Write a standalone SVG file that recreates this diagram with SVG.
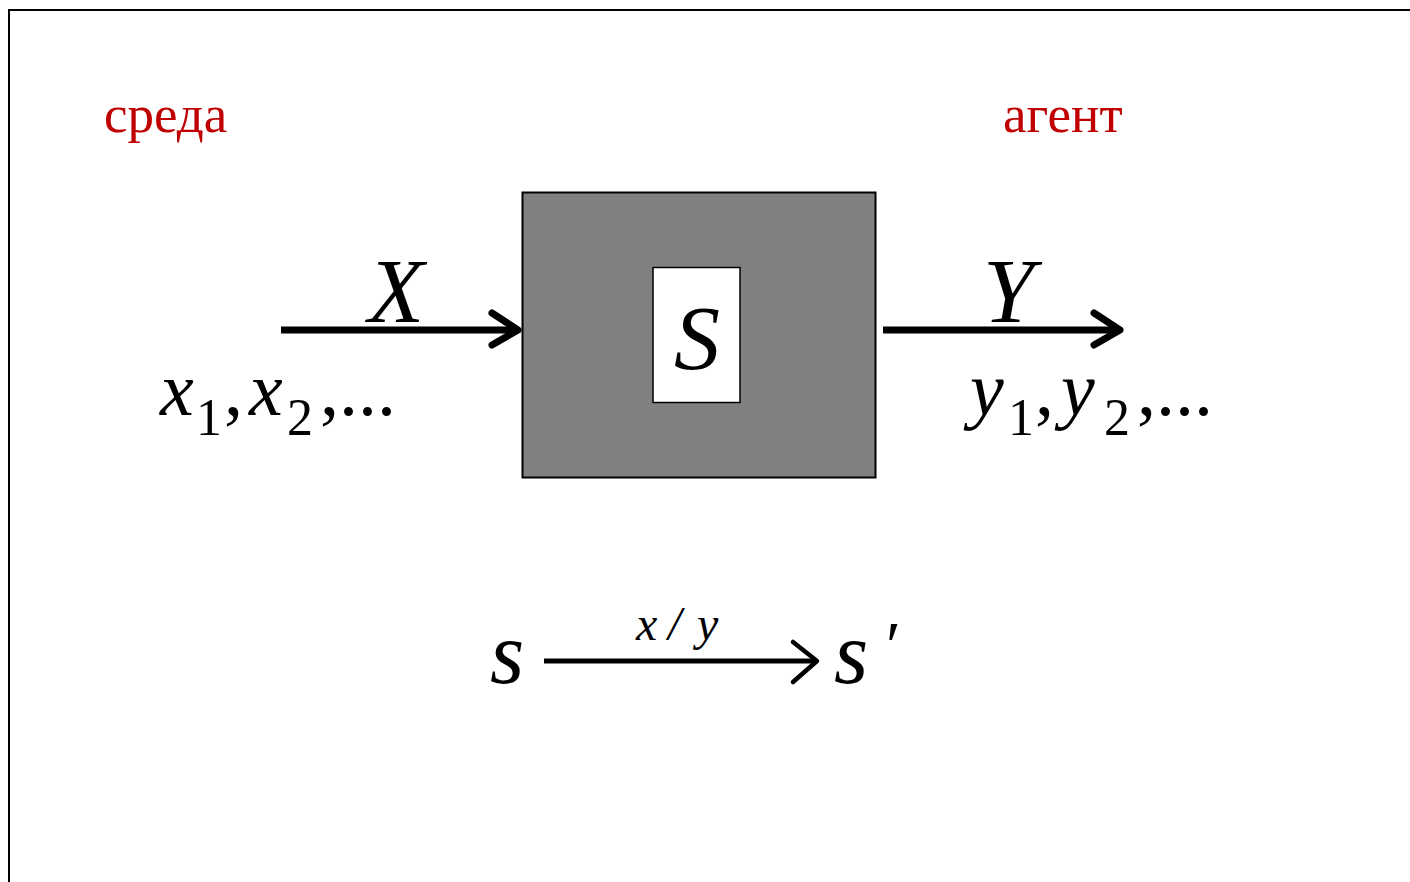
<svg xmlns="http://www.w3.org/2000/svg" width="1410" height="882" viewBox="0 0 1410 882">
<style>
.m{font-family:"Liberation Serif","Times New Roman",serif;font-style:italic;fill:#000}
.n{font-family:"Liberation Serif","Times New Roman",serif;fill:#000}
.red{font-family:"Liberation Serif","Times New Roman",serif;fill:#C00000;font-size:53px}
.shaft{stroke:#000;fill:none}
.head{stroke:#000;fill:none;stroke-linecap:round;stroke-linejoin:round}
</style>
<rect x="0" y="0" width="1410" height="882" fill="#fff"/>
<path d="M9 882 V10 H1410" fill="none" stroke="#000" stroke-width="2"/>
<text class="red" x="104" y="132">среда</text>
<text class="red" x="1003" y="132">агент</text>
<g id="system">
<rect x="522.5" y="192.5" width="353" height="285" fill="#808080" stroke="#000" stroke-width="2"/>
</g>
<g id="state">
<rect x="653" y="267.5" width="87" height="135" fill="#fff" stroke="#000" stroke-width="1.5"/>
<text class="m" x="697" y="369" font-size="92" text-anchor="middle">S</text>
</g>
<g id="connectors">
<line class="shaft" x1="281" y1="330" x2="516" y2="330" stroke-width="7"/>
<polyline class="head" points="492,313 518,330 492,345" stroke-width="7"/>
<line class="shaft" x1="883" y1="330" x2="1117" y2="330" stroke-width="7"/>
<polyline class="head" points="1094,313 1120,330 1094,345" stroke-width="7"/>
<line class="shaft" x1="544" y1="661" x2="815" y2="661" stroke-width="5"/>
<polyline class="head" points="793,642 817,661 793,682" stroke-width="4.5"/>
</g>
<g id="labels">
<text class="m" x="368" y="322" font-size="92">X</text>
<text class="m" x="983" y="322" font-size="92">Y</text>
<text class="m" x="160" y="415" font-size="76">x</text>
<text class="n" x="196" y="435" font-size="52">1</text>
<text class="n" x="224" y="415" font-size="76">,</text>
<text class="m" x="249" y="415" font-size="76">x</text>
<text class="n" x="287" y="435" font-size="52">2</text>
<text class="n" x="320" y="415" font-size="76">,...</text>
<text class="m" x="970" y="415" font-size="76">y</text>
<text class="n" x="1008" y="435" font-size="52">1</text>
<text class="n" x="1035" y="415" font-size="76">,</text>
<text class="m" x="1061" y="415" font-size="76">y</text>
<text class="n" x="1104" y="435" font-size="52">2</text>
<text class="n" x="1137" y="415" font-size="76">,...</text>
<text class="m" x="490" y="683" font-size="88">s</text>
<text class="m" x="636" y="640" font-size="48">x</text>
<text class="m" x="668" y="640" font-size="48">/</text>
<text class="m" x="697" y="640" font-size="48">y</text>
<text class="m" x="834" y="683" font-size="88">s</text>
<text class="n" x="886" y="668" font-size="68">′</text>
</g>
</svg>
